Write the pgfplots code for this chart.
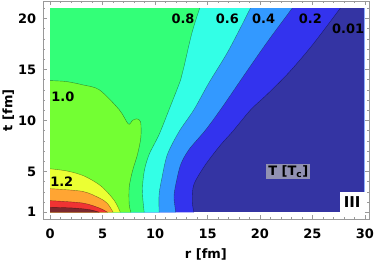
\documentclass[border=0pt]{standalone}
\usepackage{pgfplots}
\pgfplotsset{compat=1.18}
\usepackage{pgfplotstable}
\usepackage{fontspec}
\setmainfont{DejaVu Sans}
\definecolor{cnavy}{RGB}{52,52,163}
\definecolor{cblue}{RGB}{51,51,238}
\definecolor{clblue}{RGB}{51,153,255}
\definecolor{ccyan}{RGB}{51,255,230}
\definecolor{cgreen}{RGB}{51,255,120}
\definecolor{clime}{RGB}{115,255,51}
\definecolor{cyellow}{RGB}{235,255,51}
\definecolor{corange}{RGB}{255,165,51}
\definecolor{cred}{RGB}{240,51,51}
\definecolor{cdred}{RGB}{125,40,45}
\definecolor{cedge}{RGB}{140,175,255}
\definecolor{cbox}{RGB}{145,145,178}
\newcommand\bff{\fontsize{13}{15}\selectfont\bfseries}
\tikzset{
  cline/.style={black, opacity=0.45, line width=0.4pt, smooth},
  clab/.style={font=\bff},
}

% contour T = 0.2
\pgfplotstableread{
x y
27.66 21.0
25.00 17.39
22.73 14.66
20.64 12.51
19.12 11.05
17.38 8.90
16.27 7.63
14.81 5.68
13.70 3.73
13.54 2.07
13.70 1.0
}\tA
% contour T = 0.4
\pgfplotstableread{
x y
23.08 21.0
20.83 17.88
18.64 14.66
16.43 11.34
14.84 9.10
13.23 7.15
12.44 5.68
11.97 3.73
11.80 2.46
11.97 1.0
}\tB
% contour T = 0.6
\pgfplotstableread{
x y
19.09 21.0
17.03 16.90
15.13 13.68
13.70 11.05
12.28 8.90
11.17 6.66
10.66 4.41
10.38 2.76
10.38 1.0
}\tC
% contour T = 0.8
\pgfplotstableread{
x y
14.25 21.0
13.51 18.56
12.75 15.24
12.44 13.98
11.33 11.05
10.38 8.61
9.43 6.66
8.96 5.00
8.79 3.05
8.96 1.0
}\tD
% contour T = 1.0
\pgfplotstableread{
x y
0.00 13.90
1.52 13.81
3.07 13.49
4.68 13.00
6.58 11.05
7.45 9.65
7.84 10.00
8.25 10.15
8.62 9.85
8.64 8.32
8.32 6.66
7.84 5.03
7.53 3.44
7.53 1.78
7.69 1.0
}\tE
% contour T = 1.2
\pgfplotstableread{
x y
0.00 5.26
1.67 5.03
3.26 4.54
4.84 3.57
6.10 2.17
6.68 1.0
}\tF
% contour T = 1.4
\pgfplotstableread{
x y
0.00 3.31
3.07 3.05
4.68 2.40
5.44 1.88
6.00 1.0
}\tG
% contour T = 1.6
\pgfplotstableread{
x y
0.00 2.14
3.07 1.91
4.68 1.42
5.47 1.0
}\tH
% contour T = 1.8
\pgfplotstableread{
x y
0.00 1.49
2.15 1.42
3.73 1.26
4.68 1.0
}\tI

\begin{document}
\begin{tikzpicture}
\begin{axis}[
  scale only axis, width=327pt, height=219pt,
  xmin=-0.7, xmax=30.4, ymin=0.3, ymax=21.7,
  axis line style={gray!80},
  tick style={gray!80, line width=0.5pt},
  tick align=inside,
  xtick={0,5,...,30}, minor xtick={0,1,...,30},
  ytick={1,5,10,15,20}, minor ytick={1,2,...,21},
  major tick length=4pt, minor tick length=2.5pt,
  /pgf/number format/assume math mode=true,
  tick label style={font=\bff, inner sep=0pt},
  xticklabel style={yshift=-9pt},
  yticklabel style={xshift=-6.6pt},
  xlabel={r [fm]}, ylabel={t [fm]},
  xlabel style={font=\bff, at={(axis description cs:0.5,0)}, anchor=base, yshift=-39pt, inner sep=0pt},
  ylabel style={font=\bff, at={(axis description cs:-0.0936,0.5)}, anchor=base, inner sep=0pt},
  axis on top,
]
\addplot[fill=cnavy, draw=none] coordinates {(0,1) (30,1) (30,21) (0,21)} -- cycle;
\addplot[fill=cblue, draw=none, smooth] table {\tA} -- (axis cs:0,1) -- (axis cs:0,21) -- cycle;
\addplot[fill=clblue, draw=none, smooth] table {\tB} -- (axis cs:0,1) -- (axis cs:0,21) -- cycle;
\addplot[fill=ccyan, draw=none, smooth] table {\tC} -- (axis cs:0,1) -- (axis cs:0,21) -- cycle;
\addplot[fill=cgreen, draw=none, smooth] table {\tD} -- (axis cs:0,1) -- (axis cs:0,21) -- cycle;
\addplot[fill=clime, draw=none, smooth] table {\tE} -- (axis cs:0,1) -- cycle;
\addplot[fill=cyellow, draw=none, smooth] table {\tF} -- (axis cs:0,1) -- cycle;
\addplot[fill=corange, draw=none, smooth] table {\tG} -- (axis cs:0,1) -- cycle;
\addplot[fill=cred, draw=none, smooth] table {\tH} -- (axis cs:0,1) -- cycle;
\addplot[fill=cdred, draw=none, smooth] table {\tI} -- (axis cs:0,1) -- cycle;
\addplot[cline] table {\tA};
\addplot[cline] table {\tB};
\addplot[cline] table {\tC};
\addplot[cline] table {\tD};
\addplot[cline] table {\tE};
\addplot[cline] table {\tF};
\addplot[cline] table {\tG};
\addplot[cline] table {\tH};
\addplot[cline] table {\tI};
\addplot[cedge, line width=0.7pt] coordinates {(30,1) (30,21)};
\node[clab] at (axis cs:12.66,20.0) {0.8};
\node[clab] at (axis cs:16.9,20.0) {0.6};
\node[clab] at (axis cs:20.35,20.0) {0.4};
\node[clab] at (axis cs:24.81,20.0) {0.2};
\node[clab] at (axis cs:28.4,19.02) {0.01};
\node[clab] at (axis cs:1.2,12.35) {1.0};
\node[clab] at (axis cs:1.1,3.96) {1.2};
\node[clab, fill=cbox, inner sep=2pt] at (axis cs:22.7,5.0) {T [T\textsubscript{c}]};
\node[font=\fontsize{15}{17}\selectfont\bfseries, fill=white, anchor=south east, minimum width=25pt, minimum height=20pt, inner sep=0pt] at (axis cs:30,1) {III};
\end{axis}
\pgfresetboundingbox
\path (current axis.south west) ++(-43pt,-43pt) rectangle ++(375pt,263pt);
\end{tikzpicture}
\end{document}
